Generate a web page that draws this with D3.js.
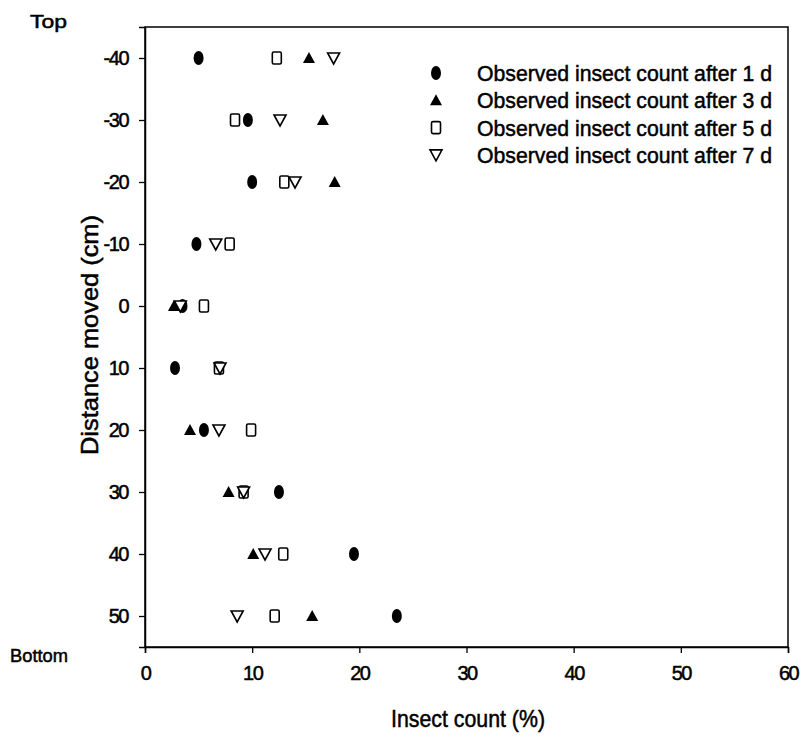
<!DOCTYPE html>
<html><head><meta charset="utf-8">
<script src="https://cdn.jsdelivr.net/npm/d3@7/dist/d3.min.js"></script>
<style>body{margin:0;background:#fff}svg{display:block}text{font-family:"Liberation Sans",Arial,sans-serif;fill:#000;stroke:#000;stroke-width:0.5}</style>
</head><body>
<script>
const distances = [-40,-30,-20,-10,0,10,20,30,40,50];
const day1 = [5.0, 9.6, 10.0, 4.8, 3.5, 2.8, 5.5, 12.5, 19.5, 23.5];
const day3 = [15.3, 16.6, 17.7, null, 2.7, null, 4.2, 7.8, 10.1, 15.6];
const day5 = [12.3, 8.4, 13.0, 7.9, 5.5, 6.9, 9.9, 9.2, 12.9, 12.1];
const day7 = [17.6, 12.6, 14.0, 6.6, 3.3, 7.0, 6.9, 9.2, 11.2, 8.6];
const seriesNames = ["Observed insect count after 1 d","Observed insect count after 3 d","Observed insect count after 5 d","Observed insect count after 7 d"];
const xTicks = [0,10,20,30,40,50,60];
const yTicks = [-40,-30,-20,-10,0,10,20,30,40,50];

const W=803,H=751;
const svg=d3.select("body").append("svg").attr("width",W).attr("height",H);
const L=145,R=788,T=27,B=647;
const x=d3.scaleLinear().domain([0,60]).range([L,R]);
const y=d3.scaleLinear().domain([-45,55]).range([T,B]);

svg.append("rect").attr("x",L).attr("y",T).attr("width",R-L).attr("height",B-T)
  .attr("fill","none").attr("stroke","#000").attr("stroke-width",1.5);

const fs=20;
const xAxis=svg.append("g").attr("transform",`translate(0,${B})`)
  .call(d3.axisBottom(x).tickValues(xTicks).tickSize(6).tickPadding(13).tickFormat(d=>String(d)));
const yAxis=svg.append("g").attr("transform",`translate(${L},0)`)
  .call(d3.axisLeft(y).tickValues(yTicks).tickSize(6).tickPadding(11).tickFormat(d=>String(d)));
[xAxis,yAxis].forEach(g=>{
  g.select(".domain").attr("stroke","#000").attr("stroke-width",1.5);
  g.selectAll(".tick line").attr("stroke","#000").attr("stroke-width",1.3);
  g.selectAll(".tick text").attr("font-size",fs).attr("font-family","Liberation Sans, Arial, sans-serif")
   .attr("fill","#000").attr("letter-spacing",-1.5);
});

const shapes={
  circle:(g,cx,cy)=>g.append("ellipse").attr("cx",cx).attr("cy",cy).attr("rx",5).attr("ry",7).attr("fill","#000"),
  tri:(g,cx,cy)=>g.append("path").attr("d",`M${cx},${cy-6}L${cx+6},${cy+5}L${cx-6},${cy+5}Z`).attr("fill","#000"),
  square:(g,cx,cy)=>g.append("rect").attr("x",cx-4.5).attr("y",cy-6).attr("width",9).attr("height",12).attr("rx",1.5)
      .attr("fill","#fff").attr("stroke","#000").attr("stroke-width",1.6),
  dtri:(g,cx,cy)=>g.append("path").attr("d",`M${cx-6},${cy-5}L${cx+6},${cy-5}L${cx},${cy+6}Z`)
      .attr("fill","#fff").attr("stroke","#000").attr("stroke-width",1.6)
};
const series=[{v:day1,s:"circle"},{v:day3,s:"tri"},{v:day5,s:"square"},{v:day7,s:"dtri"}];
const pts=svg.append("g");
series.forEach(sr=>{
  sr.v.forEach((val,i)=>{ if(val!=null) shapes[sr.s](pts,x(val),y(distances[i])); });
});

const lg=svg.append("g");
seriesNames.forEach((n,i)=>{
  const cy=73+i*27.3;
  shapes[series[i].s](lg,436,cy);
  lg.append("text").attr("x",477).attr("y",cy+8).attr("font-size",22)
    .attr("textLength",295).attr("lengthAdjust","spacingAndGlyphs").text(n);
});

svg.append("text").attr("x",30).attr("y",28).attr("font-size",19).attr("textLength",37).attr("lengthAdjust","spacingAndGlyphs").text("Top");
svg.append("text").attr("x",10).attr("y",662).attr("font-size",19).attr("textLength",58).attr("lengthAdjust","spacingAndGlyphs").text("Bottom");
svg.append("text").attr("x",391).attr("y",727).attr("font-size",24)
  .attr("textLength",154).attr("lengthAdjust","spacingAndGlyphs").text("Insect count (%)");
svg.append("text").attr("transform",`translate(98,455) rotate(-90)`)
  .attr("font-size",24).attr("textLength",240).attr("lengthAdjust","spacingAndGlyphs").text("Distance moved (cm)");
</script>
</body></html>
